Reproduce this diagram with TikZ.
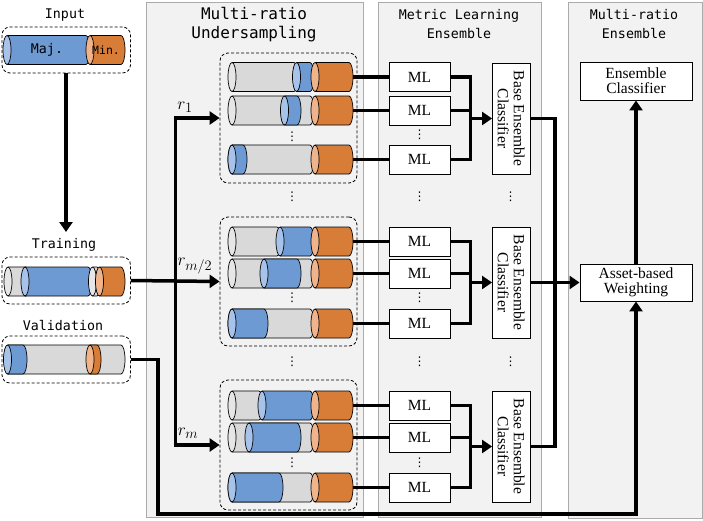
\documentclass[tikz,border=0pt]{standalone}
\usepackage{fontspec}
\setmainfont{Liberation Serif}
\newfontfamily\monof{DejaVu Sans Mono}
\newfontfamily\symf{DejaVu Sans}
\usetikzlibrary{arrows.meta}
\definecolor{panelfill}{HTML}{F2F2F2}
\definecolor{panelline}{HTML}{ABABAB}
\definecolor{cblue}{HTML}{6E9AD3}
\definecolor{cbluecap}{HTML}{A8C3EA}
\definecolor{corange}{HTML}{D87D37}
\definecolor{corangecap}{HTML}{F1B48A}
\definecolor{cgray}{HTML}{D9D9D9}
\definecolor{cgraycap}{HTML}{E6E6E6}
\tikzset{
  panel/.style={fill=panelfill, draw=panelline, line width=1pt},
  grp/.style={draw=black, line width=0.8pt, dash pattern=on 3pt off 2pt, rounded corners=8pt, inner sep=0pt},
  box/.style={draw=black, fill=white, line width=0.9pt, inner sep=0pt},
  conn/.style={line width=3.5pt},
  arr/.style={conn, -{Triangle[length=10pt,width=13pt]}},
  cylline/.style={draw=black, line width=0.7pt},
  ttl/.style={font=\monof\fontsize{13.3}{19}\selectfont, align=center, inner sep=0pt},
  ttlbig/.style={font=\monof\fontsize{16}{18.5}\selectfont, align=center, inner sep=0pt},
  serif/.style={font=\fontsize{15.5}{15}\selectfont, align=center, inner sep=0pt},
  beserif/.style={font=\fontsize{15.5}{16}\selectfont, align=center, inner sep=0pt, rotate=-90},
  dotsym/.style={font=\symf\fontsize{12}{12}\selectfont, inner sep=0pt},
  rlabel/.style={font=\fontsize{19}{19}\selectfont, inner sep=0pt},
  mlbox/.style={box, minimum width=61pt, minimum height=29pt},
  bebox/.style={box, minimum width=37.5pt, minimum height=111pt},
  ecbox/.style={box, minimum width=112pt, minimum height=38pt},
}
% #1 cap centre x, #2 body end x, #3 centre y, #4 body colour, #5 cap colour
\newcommand\cylseg[5]{%
  \fill[#4] (#1,#3-14.5) -- (#2,#3-14.5) arc[start angle=-90,end angle=90,x radius=4,y radius=14.5] -- (#1,#3+14.5) -- cycle;
  \draw[cylline] (#1,#3-14.5) -- (#2,#3-14.5) arc[start angle=-90,end angle=90,x radius=4,y radius=14.5] -- (#1,#3+14.5);
  \filldraw[cylline,fill=#5] (#1,#3) ellipse[x radius=4,y radius=14.5];
}
\newcommand\bseg[3]{\cylseg{#1}{#2}{#3}{cblue}{cbluecap}}
\newcommand\gseg[3]{\cylseg{#1}{#2}{#3}{cgray}{cgraycap}}
\newcommand\oseg[3]{\cylseg{#1}{#2}{#3}{corange}{corangecap}}

\begin{document}
\begin{tikzpicture}[x=1pt,y=-1pt]
\useasboundingbox (0,0) rectangle (703,520);

% panels
\draw[panel] (146.5,2.5) rectangle (363,517);
\draw[panel] (378,2.5) rectangle (541.5,517);
\draw[panel] (568,2.5) rectangle (702,518);

% titles
\node[ttl] (tinput) at (65,15) {Input};
\node[ttl] (ttrain) at (64,245) {Training};
\node[ttl] (tval) at (63,325) {Validation};
\node[ttlbig] (tmru) at (254,24.5) {Multi-ratio\\Undersampling};
\node[ttl] (tmle) at (459,24.5) {Metric Learning\\Ensemble};
\node[ttl] (tmre) at (634,24.5) {Multi-ratio\\Ensemble};

% left dashed boxes
\node[grp, minimum width=128.5pt, minimum height=46pt] (inbox) at (66.25,50) {};
\node[grp, minimum width=128.5pt, minimum height=47pt] (trbox) at (66.25,280.5) {};
\node[grp, minimum width=128.5pt, minimum height=47pt] (vabox) at (66.25,359.5) {};

% input cylinder
\bseg{7}{86}{50}
\oseg{90}{121}{50}
\node[font=\monof\fontsize{13.3}{14}\selectfont, inner sep=0pt] (tmaj) at (47,50) {Maj.};
\node[font=\monof\fontsize{11.5}{12}\selectfont, inner sep=0pt] (tmin) at (106,50) {Min.};

% training cylinder
\gseg{8}{26}{281.5}
\bseg{25}{88}{281.5}
\gseg{92.5}{97}{281.5}
\oseg{99.5}{121}{281.5}

% validation cylinder
\gseg{8}{121}{359.5}
\bseg{7.5}{23}{359.5}
\oseg{90}{97}{359.5}

% group boxes
\node[grp, minimum width=137pt, minimum height=130pt] (G1) at (288.5,118) {};
\node[grp, minimum width=137pt, minimum height=129pt] (G2) at (288.5,281.5) {};
\node[grp, minimum width=137pt, minimum height=130pt] (G3) at (288.5,445) {};

% group 1 rows
\gseg{232}{294}{77}\bseg{296.5}{310}{77}\oseg{315}{349}{77}
\gseg{232}{310}{110.5}\bseg{284.5}{297}{110.5}\oseg{315}{349}{110.5}
\gseg{232}{310}{159.5}\bseg{232}{243}{159.5}\oseg{315}{349}{159.5}
% group 2 rows
\gseg{232}{277}{241.5}\bseg{280}{310}{241.5}\oseg{315}{349}{241.5}
\gseg{232}{310}{273.5}\bseg{264}{297}{273.5}\oseg{315}{349}{273.5}
\gseg{232}{310}{323.5}\bseg{232}{264}{323.5}\oseg{315}{349}{323.5}
% group 3 rows
\gseg{232}{259}{405.5}\bseg{262}{310}{405.5}\oseg{315}{349}{405.5}
\gseg{232}{310}{437.5}\bseg{249}{297}{437.5}\oseg{315}{349}{437.5}
\gseg{232}{310}{487.5}\bseg{232}{279}{487.5}\oseg{315}{349}{487.5}

% row end coordinates
\coordinate (e11) at (353,77);   \coordinate (e12) at (353,110.5); \coordinate (e13) at (353,159.5);
\coordinate (e21) at (353,241.5); \coordinate (e22) at (353,273.5); \coordinate (e23) at (353,323.5);
\coordinate (e31) at (353,405.5); \coordinate (e32) at (353,437.5); \coordinate (e33) at (353,487.5);

% dots
\node[dotsym] (d1) at (292,136.5) {⋮};
\node[dotsym] (d2) at (292,197) {⋮};
\node[dotsym] (d3) at (292,298) {⋮};
\node[dotsym] (d4) at (292,362) {⋮};
\node[dotsym] (d5) at (292,463) {⋮};
\node[dotsym] (d6) at (419.5,135) {⋮};
\node[dotsym] (d7) at (419.5,197) {⋮};
\node[dotsym] (d8) at (419.5,298) {⋮};
\node[dotsym] (d9) at (419.5,362) {⋮};
\node[dotsym] (d10) at (419.5,463) {⋮};
\node[dotsym] (d11) at (510.5,197) {⋮};
\node[dotsym] (d12) at (510.5,362) {⋮};

% ML boxes
\node[mlbox, serif] (m11) at (419.5,77) {ML};
\node[mlbox, serif] (m12) at (419.5,110.5) {ML};
\node[mlbox, serif] (m13) at (419.5,159.5) {ML};
\node[mlbox, serif] (m21) at (419.5,241.5) {ML};
\node[mlbox, serif] (m22) at (419.5,273.5) {ML};
\node[mlbox, serif] (m23) at (419.5,323.5) {ML};
\node[mlbox, serif] (m31) at (419.5,405.5) {ML};
\node[mlbox, serif] (m32) at (419.5,437.5) {ML};
\node[mlbox, serif] (m33) at (419.5,487.5) {ML};

% Base ensemble classifiers
\node[bebox] (be1) at (511.25,118.5) {};
\node[bebox] (be2) at (511.25,282.5) {};
\node[bebox] (be3) at (511.25,446.5) {};
\node[beserif] (bt1) at (be1.center) {Base Ensemble\\Classifier};
\node[beserif] (bt2) at (be2.center) {Base Ensemble\\Classifier};
\node[beserif] (bt3) at (be3.center) {Base Ensemble\\Classifier};

% right boxes
\node[ecbox, serif] (ec) at (636,81) {Ensemble\\Classifier};
\node[ecbox, serif, minimum height=37pt] (aw) at (636,282.5) {Asset-based\\Weighting};

% coordinates
\coordinate (tarrow) at (66,232);
\coordinate (busU) at (175.5,281.5);
\coordinate (j1) at (470.5,118.5);
\coordinate (j2) at (470.5,282.5);
\coordinate (j3) at (470.5,446.5);
\coordinate (busB) at (555,446.5);
\coordinate (v1) at (158,359.5);
\coordinate (v2) at (158,514);
\coordinate (v3) at (636,514);

% connectors: left part
\draw[arr] (inbox.south -| tarrow) -- (tarrow);
\draw[arr] (trbox.east) -- (G2.west);
\draw[arr] (busU) |- (G1.west);
\draw[arr] (busU) |- (G3.west);
\node[rlabel] (r1) at (185,107) {$r_1$};
\node[rlabel] (r2) at (195,266) {$r_{m/2}$};
\node[rlabel] (r3) at (188,433) {$r_m$};

% rows to ML
\foreach \g in {1,2,3}{
  \foreach \r in {1,2,3}{
    \draw[conn] (e\g\r) -- (m\g\r.west);
  }
}
% ML to base classifiers
\draw[conn] (m11.east) -| (j1) |- (m13.east);
\draw[conn] (m12.east) -- (m12.east -| j1);
\draw[arr] (j1) -- (be1.west);
\draw[conn] (m21.east) -| (j2) |- (m23.east);
\draw[conn] (m22.east) -- (m22.east -| j2);
\draw[arr] (j2) -- (be2.west);
\draw[conn] (m31.east) -| (j3) |- (m33.east);
\draw[conn] (m32.east) -- (m32.east -| j3);
\draw[arr] (j3) -- (be3.west);

% base classifiers to weighting
\draw[conn] (be1.east) -| (busB) -- (be3.east);
\draw[arr] (be2.east) -- (aw.west);
\draw[arr] (aw.north) -- (ec.south);

% validation
\draw[arr] (vabox.east) -- (v1) -- (v2) -- (v3) -- (aw.south);
\end{tikzpicture}
\end{document}
